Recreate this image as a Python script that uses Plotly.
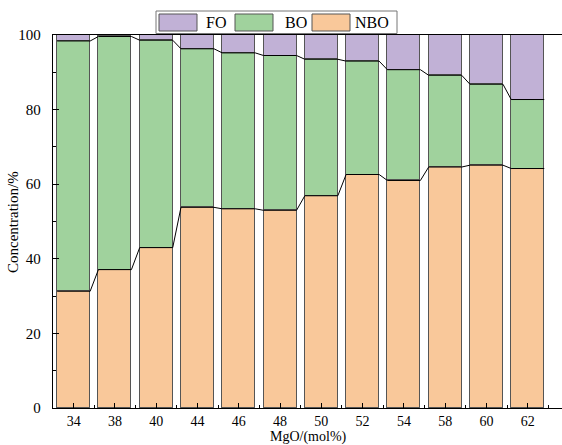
import plotly.graph_objects as go

categories = ["34", "38", "40", "44", "46", "48", "50", "52", "54", "58", "60", "62"]
nbo = [31.3, 37.1, 43.0, 53.8, 53.4, 53.0, 56.9, 62.6, 61.0, 64.6, 65.1, 64.2]
bo_top = [98.4, 99.6, 98.6, 96.3, 95.2, 94.5, 93.5, 93.0, 90.7, 89.2, 86.8, 82.7]
bo = [round(t - n, 2) for t, n in zip(bo_top, nbo)]
fo = [round(100 - t, 2) for t in bo_top]

series_names = ["FO", "BO", "NBO"]
colors = {"FO": "#C1B1D6", "BO": "#A0D29D", "NBO": "#F9C89A"}
BAR_W = 0.8
FONT = "Liberation Serif, Times New Roman, serif"

W, H = 562, 445
ML, MR, MT, MB = 53, 0, 35, 37

x = list(range(len(categories)))
fig = go.Figure()
for name, vals in [("NBO", nbo), ("BO", bo), ("FO", fo)]:
    fig.add_trace(go.Bar(
        x=x, y=vals, name=name, width=BAR_W,
        marker=dict(color=colors[name], line=dict(color="#555555", width=1)),
        showlegend=False,
    ))

def step_line(tops):
    xs, ys = [], []
    for i, v in enumerate(tops):
        xs += [i - BAR_W / 2, i + BAR_W / 2]
        ys += [v, v]
    return xs, ys

for tops in (nbo, bo_top):
    xs, ys = step_line(tops)
    fig.add_trace(go.Scatter(x=xs, y=ys, mode="lines",
                             line=dict(color="black", width=1),
                             showlegend=False, hoverinfo="skip"))

# manual legend (pixel -> paper)
pw = W - ML - MR
ph = H - MT - MB
def px2x(p):
    return (p - ML) / pw
def py2y(p):
    return (H - MB - p) / ph

shapes = [dict(type="rect", xref="paper", yref="paper",
               x0=px2x(156), x1=px2x(397), y0=py2y(33.5), y1=py2y(11),
               line=dict(color="#777777", width=1), fillcolor="white", layer="above")]
annotations = []
leg_items = [("FO", 159, 204), ("BO", 235, 283), ("NBO", 312, 353)]
for name, rx, tx in leg_items:
    shapes.append(dict(type="rect", xref="paper", yref="paper",
                       x0=px2x(rx), x1=px2x(rx + 38), y0=py2y(31), y1=py2y(14),
                       line=dict(color="#555555", width=1), fillcolor=colors[name], layer="above"))
    annotations.append(dict(xref="paper", yref="paper", x=px2x(tx), y=py2y(22.5),
                            text=name, showarrow=False, xanchor="left", yanchor="middle",
                            font=dict(family=FONT, size=16, color="black")))

annotations.append(dict(xref="paper", yref="paper", x=px2x(308), y=py2y(446),
                        text="MgO/(mol%)", showarrow=False, xanchor="center", yanchor="bottom",
                        font=dict(family=FONT, size=14, color="black"),
                        borderpad=0))
annotations.append(dict(xref="paper", yref="paper", x=px2x(13), y=py2y(222),
                        text="Concentration/%", showarrow=False, textangle=-90,
                        xanchor="center", yanchor="middle",
                        font=dict(family=FONT, size=15, color="black")))

fig.update_layout(
    width=W, height=H,
    margin=dict(l=ML, r=MR, t=MT, b=MB, pad=0),
    barmode="stack", bargap=0,
    plot_bgcolor="white", paper_bgcolor="white",
    font=dict(family=FONT, size=15, color="black"),
    shapes=shapes, annotations=annotations,
    showlegend=False,
)
fig.update_xaxes(
    range=[-0.5, 11.83], tickmode="array", tickvals=x, ticktext=categories,
    showgrid=False, zeroline=False,
    showline=True, linecolor="black", linewidth=1.3, mirror=True,
    ticks="inside", ticklen=5, tickcolor="black", tickwidth=1,
    minor=dict(ticks="inside", ticklen=3, tickcolor="black", tick0=0.5, dtick=1, showgrid=False),
    tickfont=dict(family=FONT, size=14), ticklabelstandoff=0,
)
fig.update_yaxes(
    range=[0, 100], tickmode="linear", tick0=0, dtick=20,
    showgrid=False, zeroline=False,
    showline=True, linecolor="black", linewidth=1.3, mirror=False,
    ticks="inside", ticklen=6, tickcolor="black", tickwidth=1,
    minor=dict(ticks="inside", ticklen=3, tickcolor="black", dtick=10, showgrid=False),
    tickfont=dict(family=FONT, size=15), ticklabelstandoff=8,
)

fig.write_html("out.html")
